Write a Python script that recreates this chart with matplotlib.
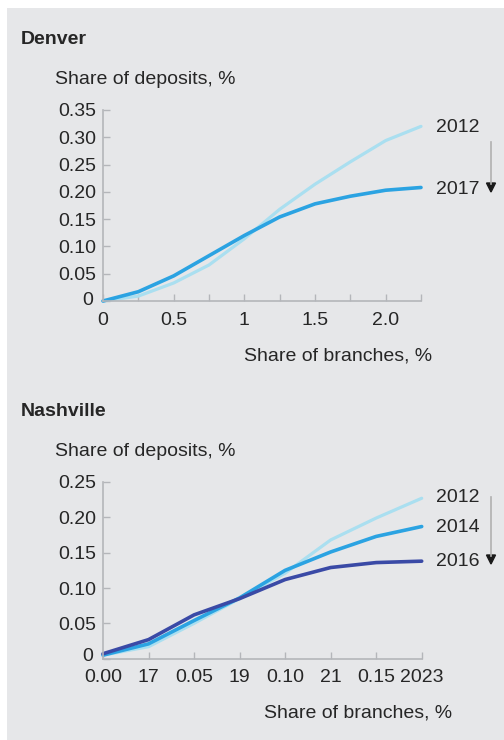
"""
Deposit share vs branch share curves, Denver and Nashville
"""

import matplotlib
matplotlib.use('Agg')
import matplotlib.pyplot as plt

# Denver data
denver_x = [0, 0.25, 0.5, 0.75, 1.0, 1.25, 1.5, 1.75, 2.0, 2.25]
denver_2012 = [0, 0.009, 0.033, 0.066, 0.114, 0.168, 0.214, 0.255, 0.294, 0.320]
denver_2017 = [0, 0.017, 0.046, 0.083, 0.120, 0.154, 0.178, 0.192, 0.203, 0.208]
denver_xticks = [0, 0.5, 1.0, 1.5, 2.0]
denver_xticklabels = ['0', '0.5', '1', '1.5', '2.0']
denver_yticks = [0, 0.05, 0.10, 0.15, 0.20, 0.25, 0.30, 0.35]
denver_yticklabels = ['0', '0.05', '0.10', '0.15', '0.20', '0.25', '0.30', '0.35']

# Nashville data
nash_x = [0, 0.025, 0.05, 0.075, 0.10, 0.125, 0.15, 0.175]
nash_2012 = [0.005, 0.017, 0.050, 0.085, 0.121, 0.168, 0.199, 0.227]
nash_2014 = [0.005, 0.021, 0.054, 0.086, 0.125, 0.151, 0.173, 0.187]
nash_2016 = [0.007, 0.027, 0.062, 0.085, 0.112, 0.129, 0.136, 0.138]
nash_xticklabels = ['0.00', '17', '0.05', '19', '0.10', '21', '0.15', '2023']
nash_yticks = [0, 0.05, 0.10, 0.15, 0.20, 0.25]
nash_yticklabels = ['0', '0.05', '0.10', '0.15', '0.20', '0.25']

BG = '#e6e7e9'
TEXT = '#262626'
SPINE = '#b4b6ba'
LIGHT = '#aadff0'
MID = '#2ba3e2'
DARK = '#3a4aa6'

W, H = 504, 740
FONT = 'Liberation Sans'
FS = 14

fig = plt.figure(figsize=(W / 100, H / 100), dpi=100)
fig.patch.set_facecolor('white')

# grey panel behind everything
fig.patches.append(plt.Rectangle((7 / W, 0), 1, 1 - 8 / H, transform=fig.transFigure,
                                 facecolor=BG, edgecolor='none', zorder=-10))


def px_axes(left, top, right, bottom):
    return fig.add_axes([left / W, 1 - bottom / H, (right - left) / W, (bottom - top) / H])


def style(ax, xpad):
    ax.set_facecolor('none')
    for s in ['top', 'right']:
        ax.spines[s].set_visible(False)
    for s in ['left', 'bottom']:
        ax.spines[s].set_color(SPINE)
        ax.spines[s].set_linewidth(1.2)
    ax.tick_params(axis='both', direction='in', length=5, width=1.0, color=SPINE,
                   labelsize=FS, labelcolor=TEXT)
    ax.tick_params(axis='y', pad=5)
    ax.tick_params(axis='x', pad=xpad)
    for lab in ax.get_xticklabels() + ax.get_yticklabels():
        lab.set_fontfamily(FONT)


def zero_label(ax, dx, dy):
    # the "0" on the y axis, placed by hand so it clears the x labels
    ax.annotate('0', xy=(0, 0), xycoords=('axes fraction', 'data'),
                xytext=(dx, dy), textcoords='offset points',
                ha='right', va='center', fontsize=FS, color=TEXT, family=FONT)


def ftext(x, y, s, **kw):
    kw.setdefault('fontsize', FS)
    kw.setdefault('color', TEXT)
    kw.setdefault('family', FONT)
    kw.setdefault('va', 'center')
    fig.text(x / W, 1 - y / H, s, **kw)


def arrow(x, y0, y1):
    fig.add_artist(plt.Line2D([x / W, x / W], [1 - y0 / H, 1 - (y1 - 4) / H],
                              color='#b0b0b0', lw=1.2, transform=fig.transFigure))
    fig.add_artist(plt.Polygon([[(x - 4.5) / W, 1 - (y1 - 5) / H],
                                [(x + 4.5) / W, 1 - (y1 - 5) / H],
                                [x / W, 1 - (y1 + 4) / H]],
                               closed=True, color='#1a1a1a', transform=fig.transFigure))


# ---- Denver ----
ax1 = px_axes(103, 110, 421, 301)
ax1.plot(denver_x, denver_2012, color=LIGHT, lw=2.3, clip_on=False, solid_capstyle='round')
ax1.plot(denver_x, denver_2017, color=MID, lw=2.6, clip_on=False, solid_capstyle='round')
ax1.set_xlim(0, 2.25)
ax1.set_ylim(0, 0.35)
ax1.set_xticks(denver_x)
ax1.set_xticklabels(['' if v not in denver_xticks else denver_xticklabels[denver_xticks.index(v)]
                     for v in denver_x])
ax1.set_yticks(denver_yticks)
ax1.set_yticklabels([''] + denver_yticklabels[1:])
style(ax1, 8)
zero_label(ax1, -7, 0)

ftext(21, 40, 'Denver', fontweight='bold')
ftext(55, 79, 'Share of deposits, %')
ftext(432, 356, 'Share of branches, %', ha='right')
ftext(436, 128, '2012')
ftext(436, 189, '2017')
arrow(491, 142, 188)

# ---- Nashville ----
ax2 = px_axes(103, 482, 421.7, 658.7)
ax2.plot(nash_x, nash_2012, color=LIGHT, lw=2.3, clip_on=False, solid_capstyle='round')
ax2.plot(nash_x, nash_2014, color=MID, lw=2.6, clip_on=False, solid_capstyle='round')
ax2.plot(nash_x, nash_2016, color=DARK, lw=2.6, clip_on=False, solid_capstyle='round')
ax2.set_xlim(0, 0.175)
ax2.set_ylim(0, 0.25)
ax2.set_xticks(nash_x)
ax2.set_xticklabels(nash_xticklabels)
ax2.set_yticks(nash_yticks)
ax2.set_yticklabels([''] + nash_yticklabels[1:])
style(ax2, 7.5)
zero_label(ax2, -7, 1.5)

ftext(21, 411, 'Nashville', fontweight='bold')
ftext(55, 452, 'Share of deposits, %')
ftext(452, 713, 'Share of branches, %', ha='right')
ftext(436, 498, '2012')
ftext(436, 527, '2014')
ftext(436, 561, '2016')
arrow(491, 497, 560)

fig.savefig('out.png', dpi=100, facecolor=fig.get_facecolor())
